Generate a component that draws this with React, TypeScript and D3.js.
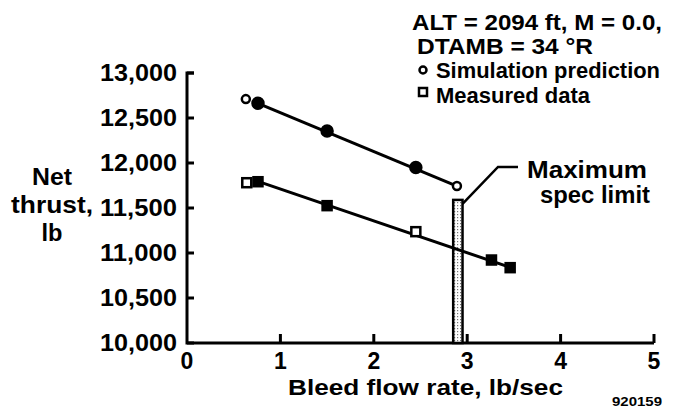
import React from "react";
import * as d3 from "d3";

const xTicks = [0, 1, 2, 3, 4, 5];
const yTicks = [10000, 10500, 11000, 11500, 12000, 12500, 13000];

const simX = [0.63, 0.76, 1.5, 2.45, 2.89];
const simY = [12710, 12663, 12356, 11950, 11744];
const simOpen = [true, false, false, false, true];

const measX = [0.64, 0.76, 1.5, 2.45, 3.26, 3.46];
const measY = [11781, 11792, 11526, 11237, 10922, 10837];
const measOpen = [true, false, false, true, false, false];

const simFitX = [0.76, 2.89];
const simFitY = [12663, 11742];
const measFitX = [0.76, 3.46];
const measFitY = [11795, 10840];

const specX = [2.85, 2.95];
const specTop = 11590;

const headerLines = ["ALT = 2094 ft, M = 0.0,", "DTAMB = 34 °R"];
const legendLabels = ["Simulation prediction", "Measured data"];
const yTitle = ["Net", "thrust,", "lb"];
const xTitle = "Bleed flow rate, lb/sec";
const specLabel = ["Maximum", "spec limit"];
const figId = "920159";

const W = 675;
const H = 414;
const FONT = "'Liberation Sans', Arial, Helvetica, sans-serif";

export default function App() {
  const x = d3.scaleLinear().domain([0, 5]).range([187, 654]);
  const y = d3.scaleLinear().domain([10000, 13000]).range([343, 73]);
  const fmt = d3.format(",");
  const line = d3.line<[number, number]>().x((d) => x(d[0])).y((d) => y(d[1]));

  const simFit: [number, number][] = simFitX.map((v, i) => [v, simFitY[i]]);
  const measFit: [number, number][] = measFitX.map((v, i) => [v, measFitY[i]]);

  const barX0 = x(specX[0]);
  const barX1 = x(specX[1]);
  const barTop = y(specTop);
  const yTitleW = [40, 82, 21];

  return (
    <svg width={W} height={H} style={{ position: "absolute", left: 0, top: 0, background: "#fff" }}
      fontFamily={FONT} fontWeight="bold">
      <defs>
        <pattern id="stip" width="3" height="3" patternUnits="userSpaceOnUse">
          <rect width="3" height="3" fill="#fff" />
          <rect x="1" y="1" width="1.2" height="1.2" fill="#777" />
        </pattern>
      </defs>
      {/* axes */}
      <path d={`M${x(0) + 7},${y(13000)} H${x(0)} V${y(10000)} H${x(5)}`} fill="none" stroke="#000" strokeWidth={3} />
      {yTicks.map((t) => (
        <g key={"y" + t}>
          <line x1={x(0)} x2={x(0) + 7} y1={y(t)} y2={y(t)} stroke="#000" strokeWidth={3} />
          <text x={177} y={y(t)} dy="0.36em" textAnchor="end" fontSize={23}
            textLength={77} lengthAdjust="spacingAndGlyphs">{fmt(t)}</text>
        </g>
      ))}
      {xTicks.map((t) => (
        <g key={"x" + t}>
          {t > 0 && <line x1={x(t)} x2={x(t)} y1={y(10000)} y2={y(10000) - 9} stroke="#000" strokeWidth={3} />}
          <text x={x(t)} y={369} textAnchor="middle" fontSize={23}>{t}</text>
        </g>
      ))}
      <text x={288} y={394.5} fontSize={22} textLength={275} lengthAdjust="spacingAndGlyphs">{xTitle}</text>
      <text x={612} y={406} fontSize={13} textLength={50} lengthAdjust="spacingAndGlyphs">{figId}</text>
      {yTitle.map((s, i) => (
        <text key={s} x={52 - yTitleW[i] / 2} y={185 + i * 28} fontSize={24}
          textLength={yTitleW[i]} lengthAdjust="spacingAndGlyphs">{s}</text>
      ))}

      {/* spec limit bar */}
      <rect x={barX0} y={barTop} width={barX1 - barX0} height={y(10000) - barTop} fill="url(#stip)" stroke="#000" strokeWidth={2.5} />
      <path d={`M${barX1},${barTop + 4} L498,167 H518`} fill="none" stroke="#000" strokeWidth={2.5} />
      <text x={527} y={178} fontSize={24} textLength={120} lengthAdjust="spacingAndGlyphs">{specLabel[0]}</text>
      <text x={540} y={203} fontSize={24} textLength={110} lengthAdjust="spacingAndGlyphs">{specLabel[1]}</text>

      {/* fit lines */}
      <path d={line(simFit) || ""} fill="none" stroke="#000" strokeWidth={3} />
      <path d={line(measFit) || ""} fill="none" stroke="#000" strokeWidth={3} />

      {/* markers */}
      {simX.map((v, i) => (
        <circle key={"s" + i} cx={x(v)} cy={y(simY[i])} r={simOpen[i] ? 4 : 5.5}
          fill={simOpen[i] ? "#fff" : "#000"} stroke="#000" strokeWidth={2.5} />
      ))}
      {measX.map((v, i) => (
        <rect key={"m" + i} x={x(v) - 4.5} y={y(measY[i]) - 4.5} width={9} height={9}
          fill={measOpen[i] ? "#fff" : "#000"} stroke="#000" strokeWidth={2.5} />
      ))}

      {/* header & legend */}
      <text x={412} y={29.5} fontSize={22} textLength={250} lengthAdjust="spacingAndGlyphs">{headerLines[0]}</text>
      <text x={417} y={53.5} fontSize={22} textLength={176} lengthAdjust="spacingAndGlyphs">{headerLines[1]}</text>
      <circle cx={423} cy={70} r={3.5} fill="#fff" stroke="#000" strokeWidth={2.5} />
      <text x={436} y={78} fontSize={22} textLength={224} lengthAdjust="spacingAndGlyphs">{legendLabels[0]}</text>
      <rect x={419} y={88} width={8} height={8} fill="#fff" stroke="#000" strokeWidth={2.5} />
      <text x={436} y={102.5} fontSize={22} textLength={154} lengthAdjust="spacingAndGlyphs">{legendLabels[1]}</text>
    </svg>
  );
}
